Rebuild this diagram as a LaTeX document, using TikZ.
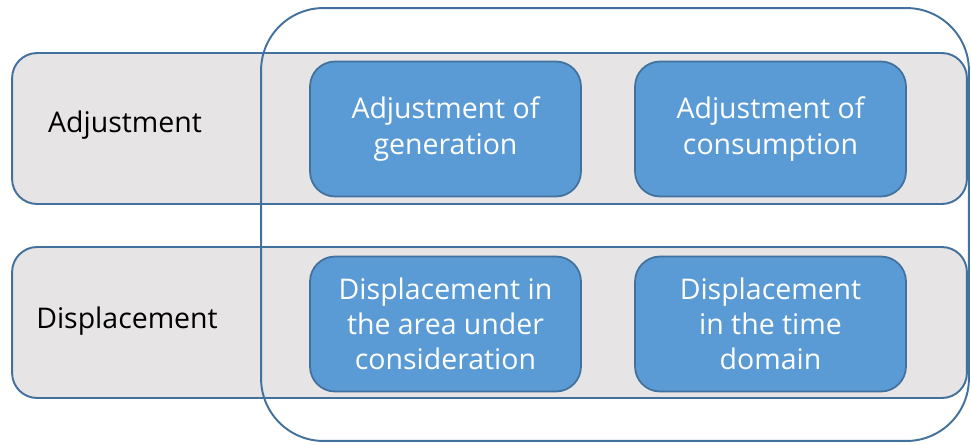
\documentclass[tikz,border=0pt]{standalone}
\usepackage{fontspec}
\setmainfont{Open Sans}
\usepackage{tikz}
\usetikzlibrary{positioning}
\definecolor{rowgray}{HTML}{E6E4E5}
\definecolor{edgeblue}{HTML}{41719C}
\definecolor{boxblue}{HTML}{5B9BD5}
\tikzset{
    row/.style={draw=edgeblue, fill=rowgray, line width=1.1pt, rounded corners=0.5cm,
        minimum width=19.1cm, minimum height=3.02cm},
    area/.style={draw=edgeblue, line width=1.1pt, rounded corners=1.25cm,
        minimum width=14.16cm, minimum height=8.66cm},
    measure/.style={draw=edgeblue, fill=boxblue, line width=1pt, rounded corners=0.5cm,
        minimum width=5.42cm, minimum height=2.7cm, text=white, align=center,
        font=\fontsize{16.2}{20}\selectfont},
    rowlabel/.style={font=\fontsize{16.2}{20}\selectfont, text=black},
}

\begin{document}
\begin{tikzpicture}[x=0.02cm, y=-0.02cm]
	\useasboundingbox (0,0) rectangle (971,444);
	% the two rows
	\node[row] (adj) at (489.5,128.5) {};
	\node[row] (disp) at (489.5,322.5) {};
	\node[rowlabel] (adjlabel) at (125,125) {Adjustment};
	\node[rowlabel] (displabel) at (127,321) {Displacement};
	% outline round the measures
	\node[area] (measures) at (615,224.5) {};
	% the measures
	\node[measure] (gen) at (445.5,129) {Adjustment of\\generation};
	\node[measure] (cons) at (770.5,129) {Adjustment of\\consumption};
	\node[measure] (space) at (445.5,324) {Displacement in\\the area under\\consideration};
	\node[measure] (time) at (770.5,324) {Displacement\\in the time\\domain};
\end{tikzpicture}
\end{document}
